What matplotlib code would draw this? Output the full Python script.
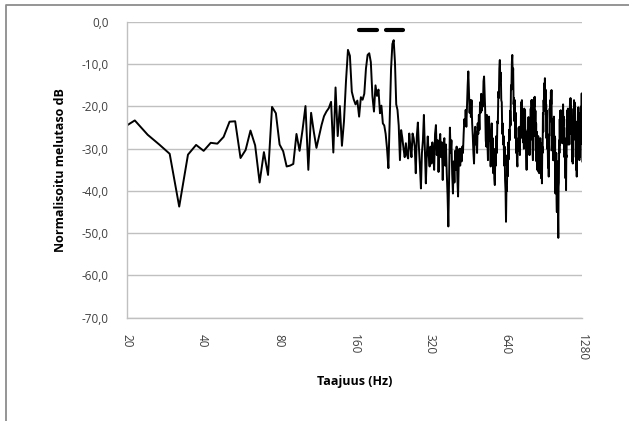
import numpy as np
import matplotlib
matplotlib.use("Agg")
import matplotlib.pyplot as plt
from matplotlib.lines import Line2D
from matplotlib.ticker import NullLocator

# FFT spectrum: 16384-point transform at 44.1 kHz, first plotted bin = 7
sample_rate_hz = 44100
fft_size = 16384
first_bin = 7

# Normalised noise level per FFT bin (dB), bins 7 ... 476
level_db = [
    -25.5, -23.3, -26.7,
    -29.0, -31.2, -43.7, -31.4, -29.1, -30.5, -28.6, -28.8, -27.2, -23.6,
    -23.5, -32.2, -30.3, -25.7, -29.2, -38.0, -30.8, -36.2, -20.1, -21.6,
    -29.0, -30.6, -34.2, -34.0, -33.6, -26.5, -30.5, -25.5, -19.9, -35.0,
    -21.5, -26.0, -29.8, -27.1, -24.4, -22.3, -21.2, -20.4, -18.9, -30.9,
    -15.5, -27.0, -19.9, -29.3, -23.5, -14.0, -6.6, -8.0, -16.5, -18.3,
    -19.5, -18.6, -22.4, -17.8, -18.4, -17.0, -11.0, -7.8, -7.4, -9.5,
    -17.5, -21.2, -15.0, -17.5, -16.0, -21.6, -19.8, -24.0, -24.5, -26.5,
    -30.0, -34.6, -22.5, -11.0, -5.2, -4.3, -9.5, -19.5, -20.8, -24.5,
    -32.7, -25.6, -27.5, -30.0, -32.0, -28.7, -31.5, -32.3, -26.4, -29.5,
    -32.0, -26.4, -27.5, -29.5, -35.8, -27.0, -23.8, -29.5, -34.0, -39.4,
    -31.0, -28.0, -22.0, -30.5, -38.2, -31.5, -27.1, -31.5, -34.2, -29.5,
    -33.5, -28.5, -31.5, -35.0, -26.5, -24.4, -31.5, -28.0, -35.5, -29.0,
    -26.5, -32.0, -28.5, -37.4, -29.0, -27.5, -34.0, -29.0, -35.8, -41.0,
    -48.4, -37.4, -25.0, -31.0, -28.0, -36.0, -40.6, -33.0, -38.0, -30.5,
    -35.0, -29.5, -37.0, -41.3, -33.0, -30.0, -34.0, -30.0, -33.0, -29.5,
    -31.0, -26.5, -23.0, -24.5, -20.8, -24.8, -19.5, -15.0, -11.7, -17.0,
    -21.5, -18.5, -22.5, -18.5, -24.0, -27.0, -31.0, -33.5, -27.0, -24.8,
    -29.0, -26.0, -31.0, -24.0, -26.5, -22.0, -25.5, -19.0, -21.5, -17.0,
    -21.0, -18.0, -20.0, -14.0, -12.9, -17.0, -21.0, -28.0, -29.5, -22.0,
    -28.5, -32.7, -24.0, -22.4, -28.0, -26.0, -34.2, -27.0, -24.0, -30.0,
    -27.5, -35.8, -30.0, -37.0, -38.6, -31.0, -34.0, -27.0, -31.0, -23.5,
    -24.0, -16.5, -18.0, -11.0, -9.0, -14.0, -12.0, -18.5, -19.0, -26.5,
    -24.0, -29.0, -27.0, -34.0, -29.5, -37.5, -40.0, -47.3, -39.0, -40.0,
    -31.5, -36.5, -28.5, -32.5, -25.5, -28.0, -21.0, -24.5, -15.0, -16.0,
    -9.5, -7.8, -13.0, -11.0, -19.5, -18.0, -23.5, -18.5, -27.5, -21.5,
    -31.0, -27.5, -33.0, -34.2, -28.0, -30.5, -25.0, -28.5, -24.8, -31.5,
    -25.5, -27.5, -19.0, -26.0, -18.5, -25.5, -22.0, -28.5, -23.5, -30.0,
    -20.5, -26.5, -20.9, -28.5, -26.0, -31.5, -35.0, -28.0, -31.5, -25.5,
    -29.0, -22.5, -30.0, -23.0, -31.5, -26.5, -28.0, -20.5, -27.0, -18.5,
    -21.5, -18.5, -31.0, -32.7, -25.5, -27.0, -18.0, -20.0, -17.7, -27.0,
    -21.0, -30.5, -24.0, -33.0, -26.0, -35.0, -28.0, -34.2, -27.0, -35.5,
    -28.5, -35.8, -29.0, -32.5, -27.5, -33.5, -28.7, -37.0, -31.0, -38.2,
    -29.5, -31.0, -21.5, -26.0, -18.5, -21.0, -14.5, -19.0, -13.3, -20.0,
    -16.0, -22.0, -19.5, -27.5, -21.0, -30.0, -26.5, -30.3, -34.5, -29.0,
    -36.6, -29.0, -30.5, -20.5, -23.0, -18.5, -23.5, -16.5, -19.5, -16.1,
    -27.0, -23.0, -30.5, -24.0, -32.7, -23.5, -29.5, -22.4, -29.0, -27.0,
    -33.0, -27.5, -40.6, -32.0, -36.5, -31.0, -42.0, -45.0, -35.0, -37.0,
    -33.0, -46.0, -51.1, -39.0, -38.0, -28.0, -31.0, -23.0, -29.0, -21.0,
    -27.0, -20.9, -26.0, -22.0, -28.0, -24.0, -28.7, -22.0, -27.0, -19.5,
    -24.5, -22.4, -29.0, -25.0, -32.0, -27.5, -32.7, -30.0, -37.0, -31.0,
    -39.8, -31.5, -32.0, -23.0, -26.0, -20.9, -26.5, -20.5, -29.0, -23.0,
    -28.0, -22.0, -29.0, -20.5, -23.5, -18.5, -24.0, -18.0, -26.0, -20.0,
    -26.5, -23.2, -29.0, -26.0, -33.0, -26.5, -33.5, -27.0, -27.5, -20.5,
    -26.0, -18.5, -24.5, -19.0, -27.5, -21.5, -27.9, -23.5, -32.0, -26.0,
    -35.0, -29.5, -36.6, -30.0, -31.5, -27.0, -28.0, -20.5, -24.0, -20.2,
    -26.0, -23.0, -30.0, -32.7, -26.0, -32.0, -23.0, -29.0, -21.5, -21.6,
    -27.5, -20.0, -22.5, -16.9, -27.0, -24.0, -33.0,
]

# Frequency bands marked above the spectrum
band_low_hz = [167.0, 213.0]
band_high_hz = [196.0, 248.0]
band_level_db = -1.9

x_ticks = [20, 40, 80, 160, 320, 640, 1280]
y_ticks = [-70, -60, -50, -40, -30, -20, -10, 0]

bin_hz = sample_rate_hz / fft_size
freq_hz = np.arange(first_bin, first_bin + len(level_db)) * bin_hz

W, H = 629, 421
fig = plt.figure(figsize=(W / 100, H / 100), dpi=100)
fig.patch.set_facecolor("white")

left, right, top, bottom = 126.7, 582.3, 22.0, 317.7
ax = fig.add_axes([left / W, 1 - bottom / H, (right - left) / W, (bottom - top) / H])

ax.set_xscale("log", base=2)
ax.set_xlim(20, 1280)
ax.set_ylim(-70, 0)

ax.plot(freq_hz, level_db, color="black", lw=1.4)
for lo, hi in zip(band_low_hz, band_high_hz):
    ax.plot([lo, hi], [band_level_db, band_level_db], color="black",
            lw=3.0, solid_capstyle="round")

grid_col = "#c0c0c0"
ax.set_yticks(y_ticks)
ax.yaxis.grid(True, color=grid_col, lw=1.0)
ax.xaxis.grid(False)
ax.set_axisbelow(True)
for side in ("top", "right"):
    ax.spines[side].set_visible(False)
for side in ("left", "bottom"):
    ax.spines[side].set_color(grid_col)
    ax.spines[side].set_linewidth(1.0)

tick_font = dict(family=["Open Sans", "DejaVu Sans"], size=8.5, color="#404040")
ax.set_yticklabels([f"{v:.1f}".replace(".", ",") for v in y_ticks], **tick_font)
ax.set_xticks(x_ticks)
ax.set_xticklabels([str(v) for v in x_ticks], rotation=270, **tick_font)
ax.xaxis.set_minor_locator(NullLocator())
ax.tick_params(axis="both", length=0)
ax.tick_params(axis="y", pad=13)
ax.tick_params(axis="x", pad=12)

label_font = dict(family=["Open Sans", "DejaVu Sans"], size=9,
                  weight="bold", color="black")
fig.text(354.5 / W, 1 - 381 / H, "Taajuus (Hz)", ha="center", va="center", **label_font)
fig.text(60 / W, 1 - 170 / H, "Normalisoitu melutaso dB", rotation=90,
         ha="center", va="center", **label_font)

# Chart frame (top and left edges)
frame = Line2D([5.5 / W, 5.5 / W, 1.0], [0.0, 1 - 4.5 / H, 1 - 4.5 / H],
               transform=fig.transFigure, color="#8c8c8c", lw=1.3)
fig.add_artist(frame)

fig.savefig("out.png", dpi=100)
